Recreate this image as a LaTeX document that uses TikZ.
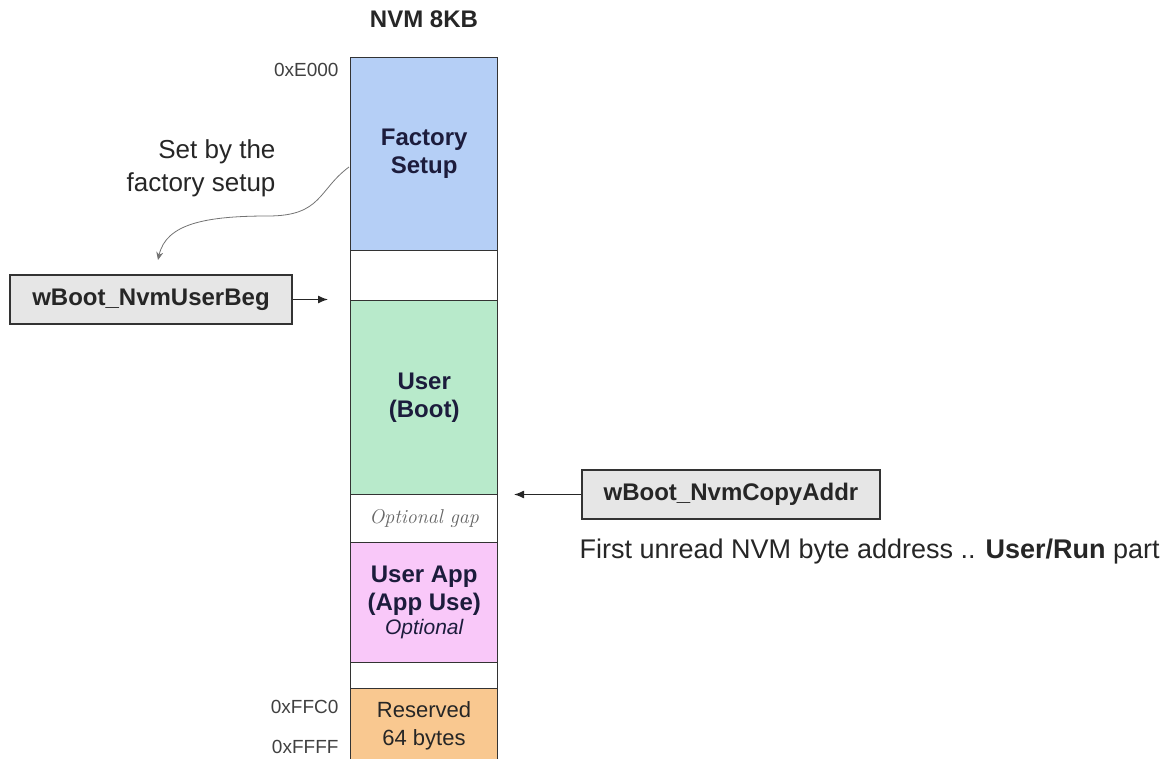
\documentclass[tikz,border=0pt]{standalone}
\usepackage{fontspec}
\setmainfont{Liberation Sans}
\usetikzlibrary{positioning, arrows.meta}

\definecolor{factoryblue}{HTML}{B5CFF6}
\definecolor{bootgreen}{HTML}{B8EACB}
\definecolor{apppink}{HTML}{F9C8F9}
\definecolor{resorange}{HTML}{F9C890}
\definecolor{labelgrey}{HTML}{E6E6E6}
\definecolor{blocktext}{HTML}{1C1C3C}

\begin{document}
\begin{tikzpicture}[x=1pt, y=-1pt,
		block/.style = {draw=black!80, line width=1.4pt, minimum width=147pt,
			anchor=north west, inner sep=0pt, align=center, font=\fontsize{24}{28}\selectfont\bfseries, text=blocktext},
		varbox/.style = {draw=black!80, line width=1.4pt, fill=labelgrey, inner sep=0pt,
			font=\fontsize{24}{28}\selectfont\bfseries, text=black!85},
		addr/.style = {anchor=east, font=\fontsize{19}{22}\selectfont, text=black!75},
		pointer/.style = {-{Latex[length=10pt, width=8pt]}, line width=1.3pt, draw=black!85}]
			\useasboundingbox (0,0) rectangle (1163,759);

			\def\colx{350};

			% the memory column, top to bottom
			\node[block, fill=factoryblue, minimum height=193pt] (factory) at (\colx,57) {Factory\\Setup};
			\node[block, fill=white, minimum height=50pt] (gapone) at (\colx,250) {};
			\node[block, fill=bootgreen, minimum height=194pt] (user) at (\colx,300) {User\\(Boot)};
			\node[block, fill=white, minimum height=48pt, font=\fontfamily{lmr}\fontsize{20}{24}\selectfont\itshape, text=black!60] (optgap) at (\colx,494) {Optional gap};
			\node[block, fill=apppink, minimum height=120pt, font=\fontsize{24}{28}\selectfont\bfseries] (userapp) at (\colx,542) {User App\\(App Use)\\[-4pt]{\mdseries\itshape\fontsize{21}{24}\selectfont Optional}};
			\node[block, fill=white, minimum height=26pt] (gaptwo) at (\colx,662) {};
			\node[block, fill=resorange, minimum height=78pt] (reserved) at (\colx,688) {};
			\node[align=center, font=\fontsize{22}{28}\selectfont, text=black!85] (reservedtext) at (424,726) {Reserved\\64 bytes};

			\node[font=\fontsize{24}{28}\selectfont\bfseries, text=black!85] (title) at (424,19) {NVM 8KB};

			% addresses
			\node[addr] (aE000) at (342,70) {0xE000};
			\node[addr] (aFFC0) at (342,707) {0xFFC0};
			\node[addr] (aFFFF) at (342,747) {0xFFFF};

			% start of the user part
			\node[varbox, minimum width=282pt, minimum height=49pt] (userbeg) at (151,299.5) {wBoot\_NvmUserBeg};
			\coordinate (userbegtip) at (328,299.5);
			\draw[pointer] (userbeg.east) -- (userbegtip);

			\node[font=\fontsize{26}{33}\selectfont, align=right, anchor=east, text=black!85] (setby) at (279,168) {Set by the\\factory setup};
			\coordinate (factorywest) at (349,167);
			\coordinate (curvetip) at (158,260);
			\draw[-{Stealth[length=8pt, width=7pt]}, draw=black!55, line width=0.8pt] (factorywest) .. controls (318,190) and (322,216) .. (268,216) .. controls (205,216) and (166,224) .. (curvetip);

			% copy address
			\node[varbox, minimum width=298pt, minimum height=49pt] (copyaddr) at (731,494.5) {wBoot\_NvmCopyAddr};
			\coordinate (copytip) at (514,494.5);
			\draw[pointer] (copyaddr.west) -- (copytip);

			\node[anchor=base west, font=\fontsize{27}{30}\selectfont, text=black!85] (copynote) at (576,558) {First unread NVM byte address .. \textbf{User/Run} part};
		\end{tikzpicture}
\end{document}
